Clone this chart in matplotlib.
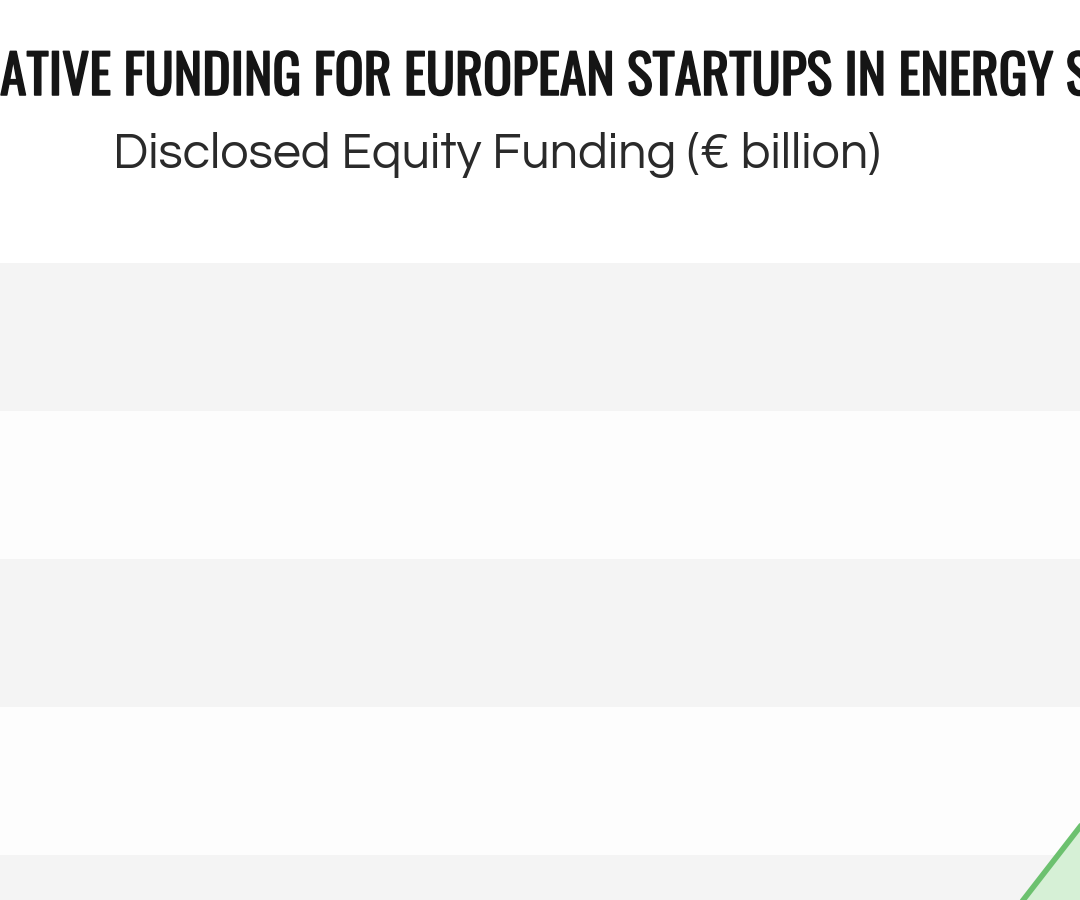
import matplotlib
matplotlib.use("Agg")
import matplotlib.pyplot as plt
import matplotlib.patheffects as pe

# ---- data ----
years = [2016, 2017, 2018, 2019, 2020, 2021]
funding = [0.1, 0.2, 0.4, 0.64, 3.6, 6.8]   # cumulative, € billion
band_edges = [0, 2, 4, 6, 8, 10]
title = "CUMULATIVE FUNDING FOR EUROPEAN STARTUPS IN ENERGY STORAGE"
subtitle = "Disclosed Equity Funding (€ billion)"

W, H = 1080, 900
fig = plt.figure(figsize=(W / 100, H / 100), dpi=100)
fig.patch.set_facecolor("white")

# axes spanning beyond the figure (the reference is a crop)
ax_left_px, ax_right_px = 0, 1490
ax_top_px, ax_bot_px = 263, 1003
ax = fig.add_axes([ax_left_px / W, (H - ax_bot_px) / H,
                   (ax_right_px - ax_left_px) / W, (ax_bot_px - ax_top_px) / H])
ax.set_xlim(2013.235, 2022)
ax.set_ylim(band_edges[0], band_edges[-1])
ax.axis("off")

for i in range(len(band_edges) - 1):
    col = "#f4f4f4" if i % 2 == 0 else "#fdfdfd"
    ax.axhspan(band_edges[i], band_edges[i + 1], color=col, lw=0, zorder=0)

ax.fill_between(years, funding, 0, color="#d6f0d6", lw=0, zorder=1)
ax.plot(years, funding, color="#6cc16f", lw=4, zorder=2, solid_capstyle="round")

fig.canvas.draw()
r = fig.canvas.get_renderer()

def width(s, size, fam, weight="normal"):
    t = fig.text(0, 0, s, fontsize=size, family=fam, fontweight=weight)
    w = t.get_window_extent(r).width
    t.remove()
    return w

TF = ["Oswald", "DejaVu Sans"]
base = 40
w_pre = width("CUMUL", base, TF)
w_span = width("CUMULATIVE FUNDING FOR EUROPEAN STARTUPS IN ENERGY ", base, TF) - w_pre
tsize = base * 1065 / w_span
w_pre = width("CUMUL", tsize, TF)
tc = "#151515"
fig.text(-w_pre / W, (H - 95) / H, title, fontsize=tsize,
         family=TF, color=tc, ha="left", va="baseline",
         path_effects=[pe.Stroke(linewidth=1.1, foreground=tc), pe.Normal()])

SF = ["Questrial", "DejaVu Sans"]
ws = width(subtitle, 31, SF)
ssize = 31 * 767 / ws
fig.text(113 / W, (H - 168) / H, subtitle, fontsize=ssize, family=SF,
         color="#2a2a2a", ha="left", va="baseline")

fig.savefig("out.png", dpi=100, facecolor="white")
